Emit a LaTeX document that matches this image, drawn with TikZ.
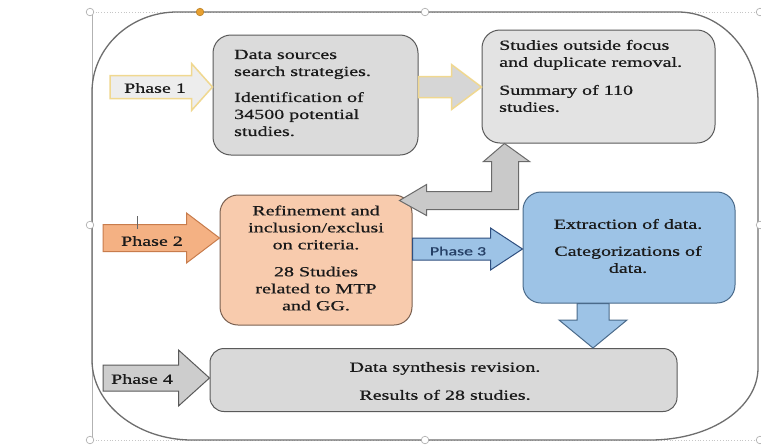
\documentclass[tikz,border=0pt]{standalone}
\usepackage{fontspec}
\setmainfont{Liberation Serif}[FakeStretch=1.43,FakeBold=0.7]
\newfontfamily\phfont{Carlito}[FakeStretch=1.43,FakeBold=0.6]
\usetikzlibrary{calc}
\definecolor{boxA}{HTML}{DBDBDB}
\definecolor{boxB}{HTML}{E3E3E3}
\definecolor{boxE}{HTML}{D9D9D9}
\definecolor{edgeG}{HTML}{5A5A5A}
\definecolor{yelB}{HTML}{F0D890}
\definecolor{phA}{HTML}{EDEDED}
\definecolor{arrA}{HTML}{D6D6D6}
\definecolor{peach}{HTML}{F8CBAD}
\definecolor{peachE}{HTML}{7A6050}
\definecolor{orangeA}{HTML}{F4B183}
\definecolor{orangeE}{HTML}{C87C4C}
\definecolor{blueA}{HTML}{9DC3E6}
\definecolor{blueE}{HTML}{4A6A8A}
\definecolor{blueD}{HTML}{2F4F7F}
\definecolor{bentF}{HTML}{C9C9C9}
\definecolor{bentE}{HTML}{6A6A6A}
\definecolor{ph4F}{HTML}{CDCDCD}
\definecolor{outerE}{HTML}{6E6E6E}
\definecolor{handleO}{HTML}{E8A030}
\definecolor{txtC}{HTML}{1A1A1A}
% rightward block arrow: style, tail, tip, half shaft, half head, head length
\newcommand{\blockR}[6]{%
  \draw[#1] let \p1=(#2), \p2=(#3) in
    (\x1,\y2+#4pt) -- (\x2-#6pt,\y2+#4pt) -- (\x2-#6pt,\y2+#5pt) -- (\x2,\y2)
    -- (\x2-#6pt,\y2-#5pt) -- (\x2-#6pt,\y2-#4pt) -- (\x1,\y2-#4pt) -- cycle;}
% downward block arrow
\newcommand{\blockD}[6]{%
  \draw[#1] let \p1=(#2), \p2=(#3) in
    (\x2-#4pt,\y1) -- (\x2-#4pt,\y2+#6pt) -- (\x2-#5pt,\y2+#6pt) -- (\x2,\y2)
    -- (\x2+#5pt,\y2+#6pt) -- (\x2+#4pt,\y2+#6pt) -- (\x2+#4pt,\y1) -- cycle;}
\begin{document}
\begin{tikzpicture}[x=1pt,y=-1pt,
  box/.style={draw=edgeG, line width=1pt, rounded corners=18pt, inner sep=0pt},
  txt/.style={inner sep=0pt, text=txtC, font=\fontsize{14}{17}\selectfont},
  phlabel/.style={inner sep=0pt, text=txtC, font=\fontsize{14}{17}\selectfont},
  handle/.style={draw=gray!70, fill=white, line width=0.6pt}]
\useasboundingbox[fill=white] (0,0) rectangle (761,445);

% selection frame (screenshot artefact)
\draw[gray!45, dotted, line width=0.8pt] (90,12) -- (760,12) (90,440) -- (760,440);
\draw[gray!60, line width=0.6pt] (92,12) -- (92,440);

% outer rounded frame
\draw[outerE, line width=1.3pt]
  (92,92) .. controls (92,48) and (130,12) .. (177,12) -- (678,12)
  .. controls (722,12) and (758,52) .. (758,102) -- (758,368)
  .. controls (758,407) and (712,440) .. (650,440) -- (192,440)
  .. controls (137,440) and (92,404) .. (92,360) -- cycle;

% boxes
\node[box, fill=boxA, minimum width=205pt, minimum height=120pt] (b1) at (315.5,95) {};
\node[box, fill=boxB, minimum width=233pt, minimum height=113pt] (b2) at (598.5,86.5) {};
\node[box, fill=peach, draw=peachE, minimum width=192pt, minimum height=130pt] (b3) at (316,260) {};
\node[box, fill=blueA, draw=blueE, minimum width=212pt, minimum height=111pt] (b4) at (629,247.5) {};
\node[box, fill=boxE, minimum width=467pt, minimum height=63pt, rounded corners=14pt] (b5) at (443.5,380) {};

% free ends of the phase arrows
\coordinate (p1t) at (110,87);
\coordinate (p12) at (0,87);
\coordinate (p2t) at (103,238);
\coordinate (p3y) at (0,249);
\coordinate (p4t) at (103,378);
\coordinate (pdx) at (593,0);

% block arrows
\blockR{fill=phA, draw=yelB, line width=1.5pt}{p1t}{p1t -| b1.west}{11.5}{23.5}{21}
\blockR{fill=arrA, draw=yelB, line width=1.5pt}{p12 -| b1.east}{p12 -| b2.west}{10.5}{22.5}{30}
\blockR{fill=orangeA, draw=orangeE, line width=1pt}{p2t}{p2t -| b3.west}{13.5}{25}{33}
\blockR{fill=blueA, draw=blueD, line width=1pt}{p3y -| b3.east}{p3y -| b4.west}{11}{21}{32}
\blockR{fill=ph4F, draw=edgeG, line width=1pt}{p4t}{p4t -| b5.west}{13}{28}{31}
\blockD{fill=blueA, draw=blueE, line width=1pt}{pdx |- b4.south}{pdx |- b5.north}{16}{34}{28}

% bent (left-up) arrow
\coordinate (bu) at ($(b2.south west)+(23,0)$);
\draw[fill=bentF, draw=bentE, line width=1pt]
  (bu) -- ++(25,18) -- ++(-11,0) -- ++(0,48) -- ++(-92,0) -- ++(0,6)
  -- ++(-27,-15) -- ++(27,-16) -- ++(0,7) -- ++(65,0) -- ++(0,-30)
  -- ++(-8,0) -- cycle;

% small tick on phase 2 arrow
\draw[gray!80!black, line width=0.8pt] (137,216) -- (137,229);

% texts
\node[txt, anchor=west, align=left] (t1) at (234,93)
  {Data sources\\search strategies.\\[9pt]Identification of\\34500 potential\\studies.};
\node[txt, anchor=west, align=left] (t2) at (499,76)
  {Studies outside focus\\and duplicate removal.\\[11pt]Summary of 110\\studies.};
\node[txt, align=center] (t3) at (316,258)
  {Refinement and\\inclusion/exclusi\\on criteria.\\[10pt]28 Studies\\related to MTP\\and GG.};
\node[txt, align=center] (t4) at (628,246)
  {Extraction of data.\\[10pt]Categorizations of\\data.};
\node[txt, align=center] (t5) at (445,381)
  {Data synthesis revision.\\[11pt]Results of 28 studies.};

\node[phlabel] (ph1) at (155,88) {Phase 1};
\node[phlabel] (ph2) at (152,241) {Phase 2};
\node[inner sep=0pt, text=blueD!80!black, font=\phfont\fontsize{12.5}{14}\selectfont] (ph3) at (458,251) {Phase 3};
\node[phlabel] (ph4) at (142,379) {Phase 4};

% selection handles (screenshot artefact)
\foreach \hx/\hy in {90/12, 425/12, 760/12, 90/225, 760/225, 90/440, 425/440, 760/440}
  \draw[handle] (\hx,\hy) circle[radius=3.8pt];
\draw[draw=handleO!80!black, fill=handleO, line width=0.6pt] (200,12) circle[radius=3.8pt];
\end{tikzpicture}
\end{document}
